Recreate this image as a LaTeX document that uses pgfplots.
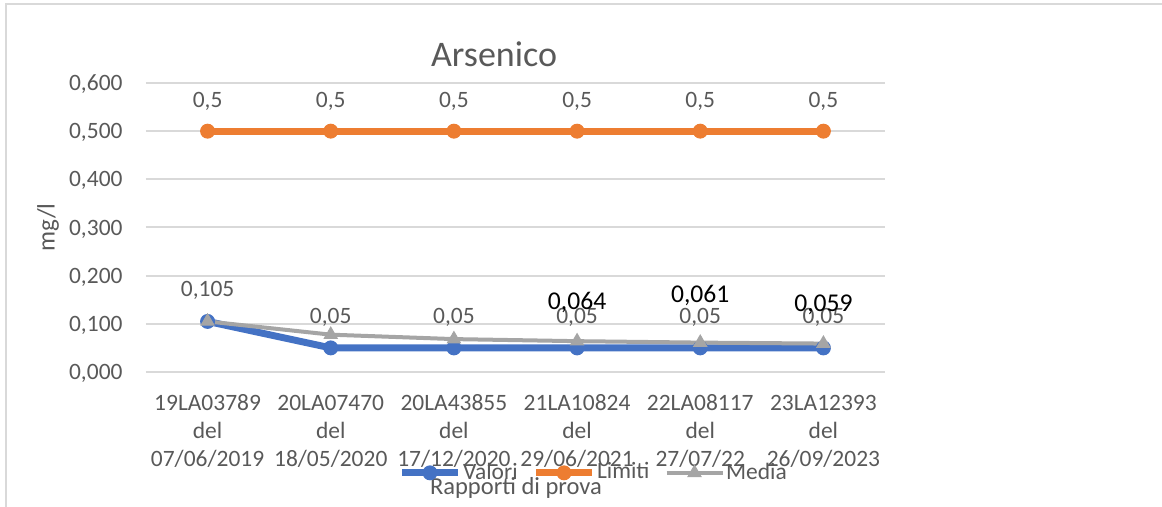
\documentclass[border=0pt]{standalone}
\usepackage{fontspec}
\setmainfont{Carlito}
\usepackage{pgfplots}
\pgfplotsset{compat=1.18}
\definecolor{cblue}{HTML}{4472C4}
\definecolor{corange}{HTML}{ED7D31}
\definecolor{cgray}{HTML}{A5A5A5}
\definecolor{cgrid}{HTML}{D9D9D9}
\definecolor{ctext}{HTML}{595959}
\begin{document}
\begin{tikzpicture}
\path[use as bounding box] (0pt,0pt) rectangle (435.75pt,-190.125pt);
\draw[cgrid, line width=0.75pt] (2.25pt,-190.125pt) -- (2.25pt,-1.5pt) -- (435.75pt,-1.5pt);
\begin{axis}[
  at={(54.75pt,-139.5pt)}, anchor=south west,
  scale only axis, width=277.125pt, height=108.375pt,
  xmin=-0.5, xmax=5.5, ymin=0, ymax=0.6,
  ytick={0,0.1,0.2,0.3,0.4,0.5,0.6},
  xtick={0,1,2,3,4,5},
  xticklabels={{19LA03789\\del\\07/06/2019},{20LA07470\\del\\18/05/2020},{20LA43855\\del\\17/12/2020},{21LA10824\\del\\29/06/2021},{22LA08117\\del\\27/07/22},{23LA12393\\del\\26/09/2023}},
  axis line style={draw=none},
  major tick length=0pt,
  ymajorgrids, grid style={cgrid, line width=0.75pt},
  yticklabel style={anchor=east, inner sep=0pt, xshift=-8.6pt, text depth=0pt, text=ctext,
     font=\fontsize{8.8}{10.5}\selectfont,
     /pgf/number format/.cd, fixed, fixed zerofill, precision=3, use comma, assume math mode=true},
  xticklabel style={anchor=base, align=center, inner sep=0pt, yshift=-35.6pt, text=ctext,
     font=\fontsize{8.8}{10.5}\selectfont},
  xlabel={Rapporti di prova},
  xlabel style={at={(axis description cs:0.5007,-0.4256)}, anchor=base, text=ctext, font=\fontsize{9.2}{11}\selectfont},
  ylabel={mg/l},
  ylabel style={at={(axis description cs:-0.1326,0.5)}, anchor=center, text=ctext, font=\fontsize{9.4}{11}\selectfont},
  title={Arsenico},
  title style={at={(axis description cs:0.471,1.0554)}, anchor=base, yshift=-6pt, text=ctext, font=\fontsize{13.5}{16}\selectfont},
  clip=false,
  legend columns=3,
  legend style={at={(axis description cs:0.341,-0.349)}, anchor=west, draw=none, fill=none,
     inner sep=0pt, font=\fontsize{8.8}{10.5}\selectfont, text=ctext,
     nodes={inner sep=0.6pt},
     /tikz/every even column/.append style={column sep=5pt}},
  legend image code/.code={\draw[mark repeat=2,mark phase=2,#1] plot coordinates {(0pt,0pt) (10.5pt,0pt) (21pt,0pt)};},
]
\addplot[cblue, line width=2.6pt, mark=*, mark size=2.6pt, mark options={solid, line width=0.4pt},
  nodes near coords, point meta=explicit symbolic,
  nodes near coords style={font=\fontsize{8.8}{10.5}\selectfont, text=ctext, anchor=base, yshift=9.2pt, inner sep=0pt}]
  coordinates {(0,0.105)[0,105] (1,0.05)[0,05] (2,0.05)[0,05] (3,0.05)[0,05] (4,0.05)[0,05] (5,0.05)[0,05]};
\addlegendentry{Valori}
\addplot[corange, line width=2.6pt, mark=*, mark size=2.6pt, mark options={solid, line width=0.4pt},
  nodes near coords, point meta=explicit symbolic,
  nodes near coords style={font=\fontsize{8.8}{10.5}\selectfont, text=ctext, anchor=base, yshift=9pt, inner sep=0pt}]
  coordinates {(0,0.5)[0,5] (1,0.5)[0,5] (2,0.5)[0,5] (3,0.5)[0,5] (4,0.5)[0,5] (5,0.5)[0,5]};
\addlegendentry{Limiti}
\addplot[cgray, line width=1.5pt, mark=triangle*, mark size=2.8pt, mark options={solid, line width=0.4pt},
  nodes near coords, point meta=explicit symbolic,
  nodes near coords style={font=\fontsize{9.6}{11}\selectfont, text=black, anchor=base, yshift=12pt, inner sep=0pt}]
  coordinates {(0,0.105)[{}] (1,0.0775)[{}] (2,0.0683)[{}] (3,0.064)[0,064] (4,0.061)[\raisebox{3pt}{0,061}] (5,0.059)[0,059]};
\addlegendentry{Media}
\end{axis}
\end{tikzpicture}
\end{document}
